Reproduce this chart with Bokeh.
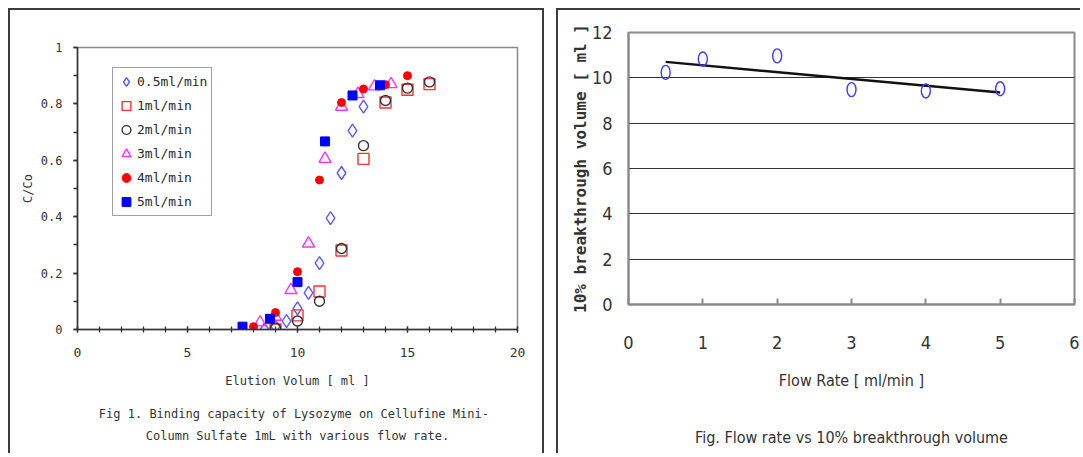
import numpy as np
from bokeh.plotting import figure
from bokeh.models import Legend, LegendItem, FixedTicker, Range1d, LinearAxis
from bokeh.embed import file_html
from bokeh.resources import INLINE

# ---------------- data: left chart (breakthrough curves) ----------------
series_labels = ["0.5ml/min", "1ml/min", "2ml/min", "3ml/min", "4ml/min", "5ml/min"]

vol_05 = [8.5, 9.0, 9.5, 10.0, 10.5, 11.0, 11.5, 12.0, 12.5, 13.0]
cc_05 = [0.0, 0.01, 0.03, 0.075, 0.13, 0.235, 0.395, 0.555, 0.705, 0.79]

vol_1 = [9.0, 10.0, 11.0, 12.0, 13.0, 14.0, 15.0, 16.0]
cc_1 = [0.0, 0.05, 0.135, 0.28, 0.605, 0.805, 0.85, 0.87]

vol_2 = [9.0, 10.0, 11.0, 12.0, 13.0, 14.0, 15.0, 16.0]
cc_2 = [0.005, 0.03, 0.10, 0.287, 0.652, 0.812, 0.856, 0.878]

vol_3 = [8.3, 9.0, 9.7, 10.5, 11.25, 12.0, 12.75, 13.5, 14.25]
cc_3 = [0.025, 0.045, 0.14, 0.305, 0.605, 0.79, 0.835, 0.862, 0.87]

vol_4 = [8.0, 9.0, 10.0, 11.0, 12.0, 13.0, 14.0, 15.0]
cc_4 = [0.01, 0.06, 0.205, 0.53, 0.805, 0.853, 0.868, 0.90]

vol_5 = [7.5, 8.75, 10.0, 11.25, 12.5, 13.75]
cc_5 = [0.01, 0.038, 0.168, 0.667, 0.83, 0.866]

x_ticks_left = [0, 5, 10, 15, 20]
y_ticks_left = [0, 0.2, 0.4, 0.6, 0.8, 1.0]
y_tick_labels_left = ["0", "0.2", "0.4", "0.6", "0.8", "1"]
caption_left = ["Fig 1.  Binding capacity of Lysozyme on Cellufine Mini-",
                "Column Sulfate 1mL with various flow rate."]

# ---------------- data: right chart (10% breakthrough volume) ----------------
flow_rate = [0.5, 1.0, 2.0, 3.0, 4.0, 5.0]
bt_volume = [10.24, 10.83, 10.97, 9.48, 9.42, 9.52]
x_ticks_right = [0, 1, 2, 3, 4, 5, 6]
y_ticks_right = [0, 2, 4, 6, 8, 10, 12]
caption_right = "Fig. Flow rate vs 10% breakthrough volume"

TXT = "#333333"
FONT_L = "'DejaVu Sans Mono', monospace"
FONT_R = "'Liberation Sans Narrow', 'DejaVu Sans Condensed', 'Noto Sans', sans-serif"
BORDER = "2px solid #3c3c3c"


def caption_axis(text, font, size, standoff):
    """An axis without ticks, used only to carry a caption line below the plot."""
    ax = LinearAxis(ticker=FixedTicker(ticks=[]), axis_label=text)
    ax.axis_line_color = None
    ax.major_tick_line_color = None
    ax.minor_tick_line_color = None
    ax.major_tick_out = 0
    ax.major_tick_in = 0
    ax.minor_tick_out = 0
    ax.minor_tick_in = 0
    ax.major_label_standoff = 0
    ax.axis_label_text_font = font
    ax.axis_label_text_font_size = size
    ax.axis_label_text_font_style = "normal"
    ax.axis_label_text_color = TXT
    ax.axis_label_standoff = standoff
    return ax


# ======================= LEFT FIGURE =======================
p1 = figure(width=536, height=445, output_backend="svg", toolbar_location=None,
            x_range=Range1d(0, 20), y_range=Range1d(0, 1),
            min_border_left=67, min_border_right=29, min_border_top=37,
            min_border_bottom=126)
p1.styles = {"position": "absolute", "left": "8px", "top": "8px",
             "border-left": BORDER, "border-top": BORDER, "border-right": BORDER}
p1.grid.visible = False
p1.outline_line_color = "#8a8a8a"
p1.outline_line_width = 1.5
p1.background_fill_color = "white"
p1.border_fill_color = "white"

r05 = p1.scatter(vol_05, cc_05, marker="diamond", size=13, fill_color=None,
                 line_color="#5a5aff", line_width=1.4)
r1 = p1.scatter(vol_1, cc_1, marker="square", size=11, fill_color=None,
                line_color="#ff3030", line_width=1.4)
r2 = p1.scatter(vol_2, cc_2, marker="circle", size=10, fill_color=None,
                line_color="#333333", line_width=1.4)
r3 = p1.scatter(vol_3, cc_3, marker="triangle", size=12, fill_color=None,
                line_color="#ff30ff", line_width=1.4)
r4 = p1.scatter(vol_4, cc_4, marker="circle", size=8, fill_color="#ff0000",
                line_color="#ff0000")
r5 = p1.scatter(vol_5, cc_5, marker="square", size=9, fill_color="#0000ff",
                line_color="#0000ff")

xa = p1.xaxis[0]
xa.ticker = FixedTicker(ticks=x_ticks_left, minor_ticks=list(range(0, 21)))
xa.axis_label = "Elution Volum [ ml ]"
ya = p1.yaxis[0]
ya.ticker = FixedTicker(ticks=y_ticks_left, minor_ticks=[i / 10 for i in range(11)])
ya.major_label_overrides = {t: l for t, l in zip(y_ticks_left, y_tick_labels_left)}
ya.axis_label = "C/Co"
for ax in (xa, ya):
    ax.axis_line_color = "#333333"
    ax.axis_line_width = 1.5
    ax.major_tick_line_color = "#333333"
    ax.minor_tick_line_color = "#333333"
    ax.major_tick_line_width = 1.3
    ax.minor_tick_line_width = 1.3
    ax.major_label_text_font = FONT_L
    ax.major_label_text_font_size = "12px"
    ax.major_label_text_color = TXT
    ax.axis_label_text_font = FONT_L
    ax.axis_label_text_font_size = "12px"
    ax.axis_label_text_font_style = "normal"
    ax.axis_label_text_color = TXT
xa.major_label_text_font_size = "13px"
xa.major_tick_in = 3
xa.major_tick_out = 3
xa.minor_tick_in = 3
xa.minor_tick_out = 3
xa.major_label_standoff = 15
xa.axis_label_standoff = 14
ya.major_tick_in = 0
ya.major_tick_out = 4
ya.minor_tick_in = 0
ya.minor_tick_out = 4
ya.major_label_standoff = 11
ya.axis_label_standoff = 3

legend = Legend(items=[LegendItem(label=lab, renderers=[r]) for lab, r in
                       zip(series_labels, [r05, r1, r2, r3, r4, r5])],
                location=(35, 113), orientation="vertical",
                glyph_width=22, glyph_height=23, label_height=23, label_width=72,
                label_standoff=0, padding=2, spacing=1, margin=0,
                label_text_font=FONT_L, label_text_font_size="13px",
                label_text_color="#2a2a2a", border_line_color="#444444",
                border_line_width=1.5, background_fill_color="white",
                background_fill_alpha=1.0)
p1.add_layout(legend, "center")

p1.add_layout(caption_axis(caption_left[0], FONT_L, "12px", 16), "below")
p1.add_layout(caption_axis(caption_left[1], FONT_L, "12px", 5), "below")

# ======================= RIGHT FIGURE =======================
p2 = figure(width=524, height=445, output_backend="svg", toolbar_location=None,
            x_range=Range1d(0, 6), y_range=Range1d(0, 12),
            min_border_left=70, min_border_right=8, min_border_top=22,
            min_border_bottom=151)
p2.styles = {"position": "absolute", "left": "556px", "top": "8px",
             "border-left": BORDER, "border-top": BORDER}
p2.xgrid.visible = False
p2.ygrid[0].ticker = FixedTicker(ticks=y_ticks_right[1:-1])
p2.ygrid[0].grid_line_color = "#333333"
p2.ygrid[0].grid_line_width = 1.2
p2.outline_line_color = "#8a8a8a"
p2.outline_line_width = 2
p2.background_fill_color = "white"
p2.border_fill_color = "white"

slope, intercept = np.polyfit(flow_rate, bt_volume, 1)
fit_x = [min(flow_rate), max(flow_rate)]
fit_y = [slope * v + intercept for v in fit_x]
p2.line(fit_x, fit_y, line_color="#111111", line_width=2.5)
p2.ellipse(x=flow_rate, y=bt_volume, width=9, height=14,
           width_units="screen", height_units="screen",
           fill_color=None, line_color="#3a3aff", line_width=1.4)

xb = p2.xaxis[0]
xb.ticker = FixedTicker(ticks=x_ticks_right)
xb.axis_label = "Flow Rate [ ml/min ]"
yb = p2.yaxis[0]
yb.ticker = FixedTicker(ticks=y_ticks_right)
yb.axis_label = "10% breakthrough volume [ ml ]"
for ax in (xb, yb):
    ax.axis_line_color = "#8a8a8a"
    ax.axis_line_width = 2
    ax.major_tick_line_color = "#8a8a8a"
    ax.major_tick_line_width = 2
    ax.minor_tick_line_color = None
    ax.major_label_text_font = FONT_R
    ax.major_label_text_font_size = "18px"
    ax.major_label_text_color = TXT
    ax.axis_label_text_color = TXT
    ax.axis_label_text_font_style = "normal"
xb.major_tick_in = 6
xb.major_tick_out = 0
xb.major_label_standoff = 31
xb.axis_label_text_font = FONT_R
xb.axis_label_text_font_size = "16px"
xb.axis_label_standoff = 19
yb.major_tick_in = 0
yb.major_tick_out = 0
yb.major_label_standoff = 16
yb.axis_label_text_font = "'DejaVu Sans Mono', monospace"
yb.axis_label_text_font_size = "16px"
yb.axis_label_text_font_style = "bold"
yb.axis_label_standoff = -1

p2.add_layout(caption_axis(caption_right, FONT_R, "16px", 35), "below")

open("out.html", "w").write(file_html([p1, p2], INLINE))
